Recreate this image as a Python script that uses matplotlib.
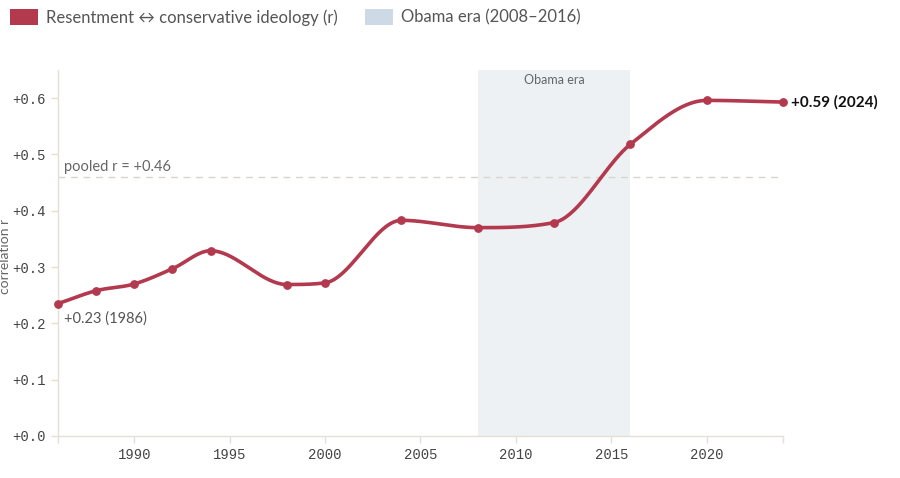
import matplotlib
matplotlib.use("Agg")
import matplotlib.pyplot as plt
import matplotlib.patches as mpatches
import numpy as np

years = [1986, 1988, 1990, 1992, 1994, 1998, 2000, 2004, 2008, 2012, 2016, 2020, 2024]
corr = [0.235, 0.258, 0.270, 0.297, 0.329, 0.269, 0.272, 0.383, 0.370, 0.379, 0.518, 0.596, 0.593]
pooled = 0.46
obama = (2008, 2016)
yticks = [0.0, 0.1, 0.2, 0.3, 0.4, 0.5, 0.6]
xticks = [1990, 1995, 2000, 2005, 2010, 2015, 2020]

RED = "#b3394e"
GRAY = "#666666"
plt.rcParams["font.family"] = ["Lato", "DejaVu Sans"]


def monotone(x, y, n=40):
    # monotone cubic (like d3 curveMonotoneX) for a smooth line through the points
    x = np.asarray(x, float)
    y = np.asarray(y, float)
    h = np.diff(x)
    d = np.diff(y) / h
    m = np.zeros_like(y)
    m[0], m[-1] = d[0], d[-1]
    for i in range(1, len(y) - 1):
        if d[i - 1] * d[i] <= 0:
            m[i] = 0
        else:
            m[i] = (d[i - 1] * h[i] + d[i] * h[i - 1]) / (h[i] + h[i - 1])
            m[i] = np.sign(m[i]) * min(abs(m[i]), 3 * min(abs(d[i - 1]), abs(d[i])))
    xs, ys = [], []
    for i in range(len(x) - 1):
        t = np.linspace(0, 1, n)
        h00 = 2 * t**3 - 3 * t**2 + 1
        h10 = t**3 - 2 * t**2 + t
        h01 = -2 * t**3 + 3 * t**2
        h11 = t**3 - t**2
        xs.append(x[i] + t * h[i])
        ys.append(h00 * y[i] + h10 * h[i] * m[i] + h01 * y[i + 1] + h11 * h[i] * m[i + 1])
    return np.concatenate(xs), np.concatenate(ys)


fig = plt.figure(figsize=(9, 4.78), dpi=100)
ax = fig.add_axes([0.0644, 0.0879, 0.8056, 0.7657])

ax.axvspan(*obama, color="#eef1f4", zorder=0, lw=0)
ax.text(sum(obama) / 2, 0.632, "Obama era", ha="center", va="center", fontsize=9, color=GRAY)

ax.axhline(pooled, color="#d8d6cc", ls=(0, (5, 4)), lw=1, zorder=1)
ax.text(1986.3, pooled + 0.006, "pooled r = +0.46", fontsize=10.5, color=GRAY, va="bottom")

sx, sy = monotone(years, corr)
ax.plot(sx, sy, color=RED, lw=2.6, zorder=3, solid_capstyle="round", clip_on=False)
ax.scatter(years, corr, s=28, color=RED, zorder=4, clip_on=False)

ax.text(1986.3, corr[0] - 0.014, "+0.23 (1986)", fontsize=10.5, color="#555555", va="top")
ax.text(2024.4, corr[-1], "+0.59 (2024)", fontsize=11, fontweight="bold", color="#111111",
        va="center", clip_on=False)

ax.set_xlim(1986, 2024)
ax.set_ylim(0, 0.65)
ax.set_yticks(yticks)
ax.set_yticklabels([f"+{v:.1f}" for v in yticks], family="Liberation Mono", fontsize=10, color="#444444")
ax.set_xticks(xticks)
ax.set_xticklabels([str(v) for v in xticks], family="Liberation Mono", fontsize=10, color="#444444")
ax.set_xticks([1986, 2024], minor=True)
ax.tick_params(which="both", length=5, color="#e3e0d4", width=1)
ax.tick_params(axis="x", pad=4)
ax.tick_params(axis="y", pad=4)
ax.set_ylabel("correlation r", fontsize=10, color=GRAY, va="center")
ax.yaxis.set_label_coords(-0.073, 0.49)
for s in ["top", "right"]:
    ax.spines[s].set_visible(False)
for s in ["left", "bottom"]:
    ax.spines[s].set_color("#e3e0d4")
    ax.spines[s].set_linewidth(1)

handles = [mpatches.Patch(facecolor=RED, edgecolor="none", label="Resentment \u2194 conservative ideology (r)"),
           mpatches.Patch(facecolor="#cdd9e5", edgecolor="none", label="Obama era (2008\u20132016)")]
fig.legend(handles=handles, loc="upper left", bbox_to_anchor=(-0.006, 1.012), ncol=2, frameon=False,
           fontsize=12, handlelength=1.7, handleheight=1.1, columnspacing=1.6, handletextpad=0.5,
           labelcolor="#555555")

fig.savefig("out.png", dpi=100)
